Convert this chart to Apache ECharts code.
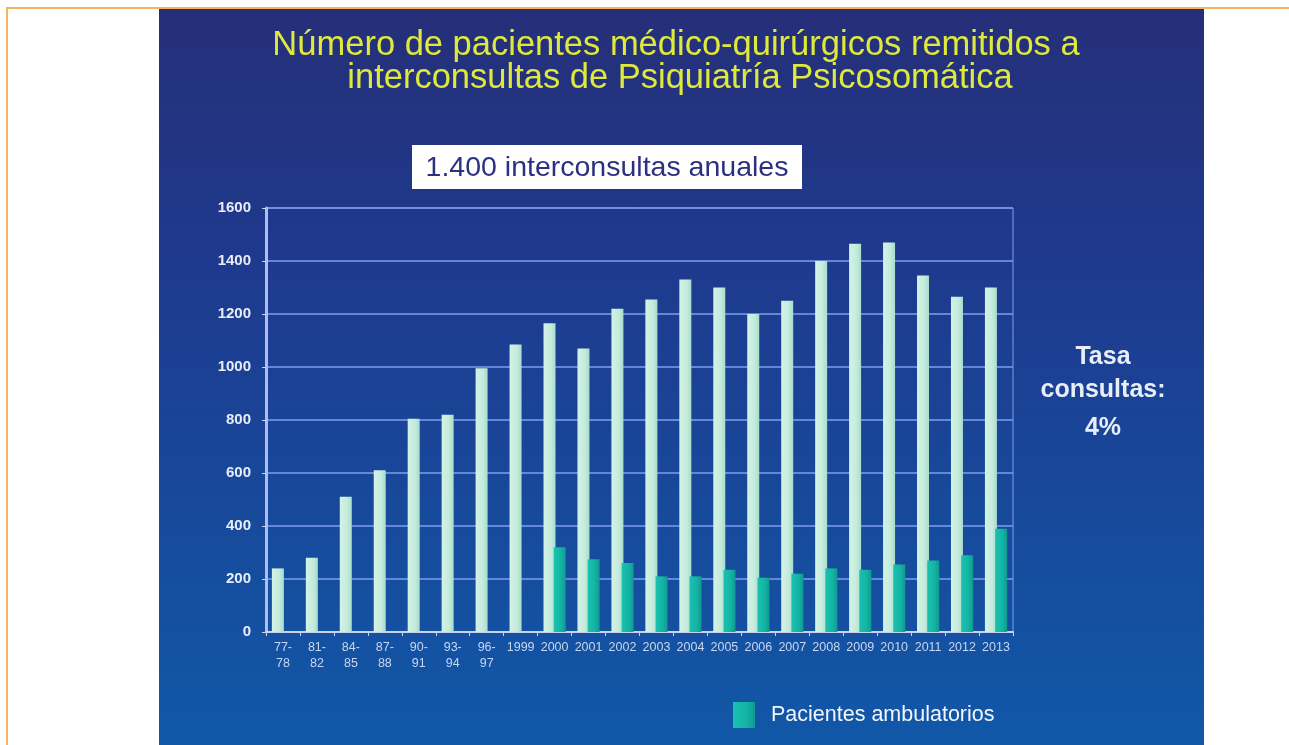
<!DOCTYPE html>
<html>
<head>
<meta charset="utf-8">
<script src="https://cdn.jsdelivr.net/npm/echarts@6/dist/echarts.min.js"></script>
<style>
html,body{margin:0;padding:0;background:#fff;}
#c{width:1289px;height:745px;}
</style>
</head>
<body>
<div id="c"></div>
<script>
const categories = ['77-78','81-82','84-85','87-88','90-91','93-94','96-97','1999','2000','2001','2002','2003','2004','2005','2006','2007','2008','2009','2010','2011','2012','2013'];
const totalPatients = [240,280,510,610,805,820,995,1085,1165,1070,1220,1255,1330,1300,1200,1250,1400,1465,1470,1345,1265,1300];
const outpatients = [null,null,null,null,null,null,null,null,320,275,260,210,210,235,205,220,240,235,255,270,290,390];
const yTicks = [0,200,400,600,800,1000,1200,1400,1600];

const chart = echarts.init(document.getElementById('c'), null, {renderer:'canvas'});
const font = '"Liberation Sans", Arial, sans-serif';
const titleStyle = {font:'34.5px '+font, fill:'#dfe93c', textAlign:'center', textVerticalAlign:'middle',
  shadowColor:'rgba(0,0,20,0.8)', shadowBlur:2, shadowOffsetX:1, shadowOffsetY:1};
chart.setOption({
  backgroundColor:'#ffffff',
  animation:false,
  graphic:[
    {type:'rect', z:-10, shape:{x:159,y:9,width:1045,height:736},
     style:{fill:new echarts.graphic.LinearGradient(0,0,0,1,[
       {offset:0,color:'#262f78'},{offset:0.35,color:'#1e3a8e'},{offset:1,color:'#1158a8'}])}},
    {type:'rect', shape:{x:6,y:7,width:1283,height:2}, style:{fill:'#f5b35a'}},
    {type:'rect', shape:{x:6,y:7,width:2,height:738}, style:{fill:'#f5b35a'}},
    {type:'text', style:Object.assign({x:676,y:45,text:'Número de pacientes médico-quirúrgicos remitidos a'}, titleStyle)},
    {type:'text', style:Object.assign({x:680,y:78,text:'interconsultas de Psiquiatría Psicosomática'}, titleStyle)},
    {type:'rect', shape:{x:412,y:145,width:390,height:44}, style:{fill:'#ffffff'}},
    {type:'text', style:{x:607,y:168,text:'1.400 interconsultas anuales',
      font:'28.5px '+font, fill:'#2b3180', textAlign:'center', textVerticalAlign:'middle'}},
    {type:'text', style:{x:1103,y:357,text:'Tasa', font:'bold 25px '+font, fill:'#e8eef8', textAlign:'center', textVerticalAlign:'middle'}},
    {type:'text', style:{x:1103,y:390,text:'consultas:', font:'bold 25px '+font, fill:'#e8eef8', textAlign:'center', textVerticalAlign:'middle'}},
    {type:'text', style:{x:1103,y:428,text:'4%', font:'bold 25px '+font, fill:'#e8eef8', textAlign:'center', textVerticalAlign:'middle'}}
  ],
  legend:{
    data:['Pacientes ambulatorios'], left:733, top:702, padding:0, icon:'rect', itemWidth:22, itemHeight:26,
    textStyle:{color:'#f2f5fb', fontSize:21.5, fontFamily:font, padding:[0,0,0,11]}
  },
  grid:{left:266, right:276, top:208, bottom:113, show:true, borderColor:'#7f9ee8', borderWidth:1},
  xAxis:{
    type:'category', data:categories,
    axisLine:{lineStyle:{color:'#c9d3f0', width:2}},
    axisTick:{show:true, length:4, lineStyle:{color:'#c9d3f0'}},
    axisLabel:{color:'#c8d6f0', fontSize:12.5, fontFamily:font, lineHeight:16, margin:8, interval:0,
      formatter:v=>v.indexOf('-')>0 ? v.replace('-','-\n') : v}
  },
  yAxis:{
    type:'value', min:yTicks[0], max:yTicks[yTicks.length-1], interval:200,
    axisLine:{show:true, lineStyle:{color:'#aebcf0', width:3}},
    axisTick:{show:true, length:4, lineStyle:{color:'#c9d3f0'}},
    splitLine:{lineStyle:{color:'#7f9ee8', width:1.5}},
    axisLabel:{color:'#e8eef8', fontSize:15, fontWeight:'bold', fontFamily:font, margin:15,
      formatter:v=>String(v)}
  },
  series:[
    {name:'Pacientes totales', type:'bar', data:totalPatients, barWidth:12, barGap:'-15%',
     itemStyle:{color:new echarts.graphic.LinearGradient(0,0,1,0,[
       {offset:0,color:'#d4f2e6'},{offset:0.6,color:'#c4ecdd'},{offset:1,color:'#a9dccb'}])}},
    {name:'Pacientes ambulatorios', type:'bar', data:outpatients, barWidth:12,
     itemStyle:{color:new echarts.graphic.LinearGradient(0,0,1,0,[
       {offset:0,color:'#19c2b0'},{offset:0.6,color:'#14b4a4'},{offset:1,color:'#0f9a8e'}])}}
  ]
});
</script>
</body>
</html>
